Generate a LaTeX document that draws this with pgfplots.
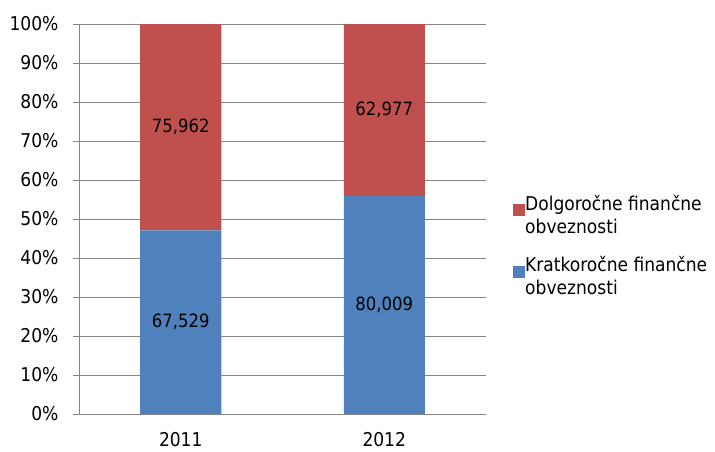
\documentclass[border=0pt]{standalone}
\usepackage{fontspec}
\setmainfont{DejaVu Sans Condensed}
\usepackage{pgfplots}
\pgfplotsset{compat=1.18}
\usepackage{pgfplotstable}

\definecolor{dred}{HTML}{C0504D}
\definecolor{kblue}{HTML}{4F81BD}
\definecolor{gridgray}{HTML}{868686}

% shares in percent, labels are the absolute amounts
\pgfplotstableread{
x pct lab
0 47.06 67,529
1 55.96 80,009
}\kratko
\pgfplotstableread{
x pct lab
0 52.94 75,962
1 44.04 62,977
}\dolgo

\begin{document}
\begin{tikzpicture}
\begin{axis}[
  at={(0pt,0pt)}, anchor=south west,
  scale only axis,
  width=407pt, height=390pt,
  ybar stacked, bar width=81pt,
  xmin=-0.5, xmax=1.5, ymin=0, ymax=100,
  axis x line=bottom, axis y line=left,
  axis line style={gridgray, -},
  xtick={0,1}, xticklabels={2011,2012},
  x tick style={draw=none},
  extra x ticks={-0.5,0.5,1.5},
  extra x tick labels={},
  extra x tick style={major tick length=6pt, tick style={gridgray, draw=gridgray}, tick align=outside},
  ytick={0,10,...,100},
  yticklabel={\pgfmathprintnumber{\tick}\%},
  ymajorgrids, grid style={gridgray, line width=0.8pt},
  y tick style={gridgray},
  tick align=outside, major tick length=6pt,
  /pgf/number format/assume math mode=true,
  ticklabel style={font=\fontsize{19}{22}\selectfont, black},
  yticklabel style={xshift=-11pt},
  xticklabel style={yshift=-9pt},
  nodes near coords,
  point meta=explicit symbolic,
  every node near coord/.style={anchor=center, font=\fontsize{18.3}{20}\selectfont, black},
  legend style={draw=none, fill=none, at={(1,0.562)}, anchor=north west, xshift=27pt,
    inner sep=0pt, row sep=22pt,
    nodes={inner sep=0pt, align=left, font=\fontsize{19}{23}\selectfont},
    /tikz/every even column/.append style={column sep=6pt}},
  legend cell align=left,
  reverse legend,
  legend image code/.code={\fill[#1] (0pt,-1pt) rectangle (12pt,11pt);},
]
\addplot[fill=kblue, draw=none] table[x=x, y=pct, meta=lab] {\kratko};
\addlegendentry{Kratkoročne finančne\\obveznosti}
\addplot[fill=dred, draw=none] table[x=x, y=pct, meta=lab] {\dolgo};
\addlegendentry{Dolgoročne finančne\\obveznosti}
\end{axis}
\path[use as bounding box] (-79pt,-37pt) rectangle (636pt,414pt);
\end{tikzpicture}
\end{document}
